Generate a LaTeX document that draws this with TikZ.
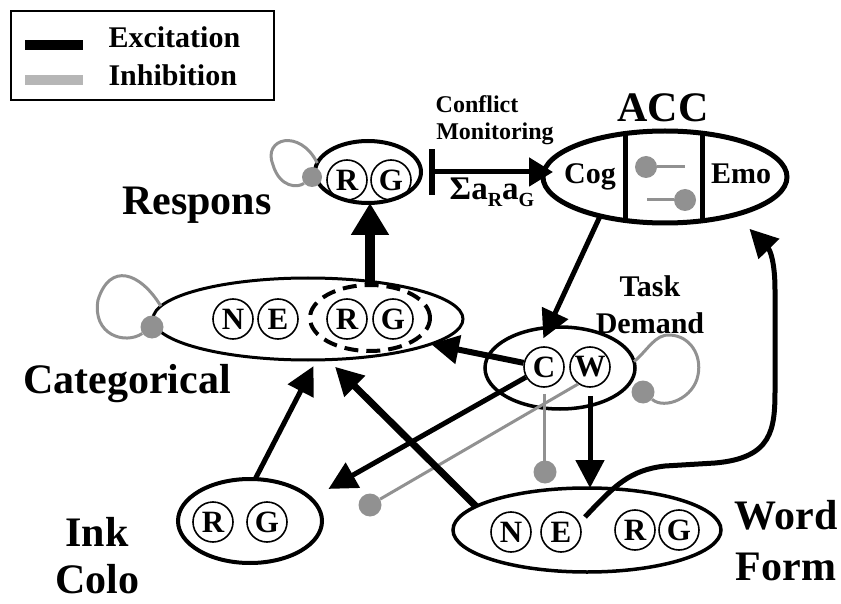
\documentclass[tikz,border=0pt]{standalone}
\usepackage{fontspec}
\setmainfont{Liberation Serif}
\usetikzlibrary{shapes.geometric,arrows.meta}
\definecolor{inhgray}{RGB}{145,145,145}
\definecolor{leggray}{RGB}{182,182,182}
\begin{document}
\begin{tikzpicture}[x=1pt,y=-1pt,
  ell/.style={draw,ellipse,inner sep=0pt,outer sep=0pt},
  unit/.style={draw,circle,line width=1.6pt,minimum size=40pt,inner sep=0pt,font=\fontsize{31}{31}\selectfont\bfseries},
  dotnode/.style={circle,fill=inhgray,minimum size=23pt,inner sep=0pt},
  big/.style={inner sep=0pt,font=\fontsize{42}{42}\selectfont\bfseries},
  mid/.style={font=\fontsize{30}{30}\selectfont\bfseries},
  small/.style={font=\fontsize{24}{24}\selectfont\bfseries},
  exc/.style={line width=5pt,-{Triangle[length=28pt,width=28pt]}},
  inh/.style={draw=inhgray,line width=3pt}]
\useasboundingbox (0,0) rectangle (841,604);

% legend
\draw[line width=2pt] (11,11) rectangle (274,100);
\draw[line width=10pt] (25,45) -- (83,45);
\draw[line width=10pt,leggray] (25,80) -- (83,80);
\node[mid,anchor=base west] (lexc) at (105,48) {Excitation};
\node[mid,anchor=base west] (linh) at (105,86) {Inhibition};

% layers
\node[ell,line width=4pt,minimum width=106pt,minimum height=62pt] (resp) at (368,172) {};
\node[unit] (rR) at (347,180) {R};
\node[unit] (rG) at (391,180) {G};

\node[ell,line width=3pt,minimum width=310pt,minimum height=82pt] (cat) at (308,319) {};
\node[unit] (cN) at (233,319) {N};
\node[unit] (cE) at (278,319) {E};
\node[unit] (cR) at (347,319) {R};
\node[unit] (cG) at (393,319) {G};
\node[ell,line width=4pt,dash pattern=on 14pt off 8pt,minimum width=120pt,minimum height=66pt] (rg) at (370,318) {};

\node[ell,line width=3.5pt,minimum width=150pt,minimum height=82pt] (cw) at (560,368) {};
\node[unit] (cC) at (544,367) {C};
\node[unit] (cW) at (590,367) {W};

\node[ell,line width=4pt,minimum width=144pt,minimum height=84pt] (ink) at (250,521) {};
\node[unit] (iR) at (213,522) {R};
\node[unit] (iG) at (267,522) {G};

\node[ell,line width=3.5pt,minimum width=268pt,minimum height=84pt] (word) at (587,530) {};
\node[unit] (wN) at (511,532) {N};
\node[unit] (wE) at (561,532) {E};
\node[unit] (wR) at (635,530) {R};
\node[unit] (wG) at (679,530) {G};

% ACC
\node[ell,line width=5pt,minimum width=244pt,minimum height=92pt] (acc) at (665,177) {};
\draw[line width=5pt] (625,133) -- (625,221);
\draw[line width=5pt] (702,133) -- (702,221);
\node[mid,anchor=base] (cog) at (590,184) {Cog};
\node[mid,anchor=base] (emo) at (741,184) {Emo};
\node[dotnode,minimum size=22pt] (d6) at (646,167) {};
\node[dotnode,minimum size=22pt] (d7) at (685,200) {};
\draw[inh] (d6) -- (685,167);
\draw[inh] (647,200) -- (d7);

% labels
\node[big,anchor=base] (lresp) at (197,215) {Respons};
\node[big,anchor=base] (lcat) at (127,393) {Categorical};
\node[big,anchor=base] (link) at (97,546) {Ink};
\node[big,anchor=base] (lcolo) at (97,593) {Colo};
\node[big,anchor=base] (lword) at (786,529) {Word};
\node[big,anchor=base] (lform) at (786,580) {Form};
\node[big,anchor=base] (lacc) at (663,122) {ACC};
\node[mid,anchor=base] (ltask) at (650,297) {Task};
\node[mid,anchor=base] (ldem) at (650,333) {Demand};
\node[small,anchor=base] (lconf) at (477,113) {Conflict};
\node[small,anchor=base] (lmon) at (495,140) {Monitoring};
\node[mid,anchor=base] (lsum) at (492,200) {\fontsize{33}{33}\selectfont Σa\raisebox{-7pt}{\fontsize{20}{20}\selectfont R}a\raisebox{-7pt}{\fontsize{20}{20}\selectfont G}};

% inhibition dots
\node[dotnode,minimum size=20pt] (d1) at (312,177) {};
\node[dotnode] (d2) at (152,327) {};
\node[dotnode] (d3) at (545,472) {};
\node[dotnode] (d4) at (370,505) {};
\node[dotnode] (d5) at (643,392) {};

% self loops
\draw[inh] (resp.170) .. controls (300,128) and (262,138) .. (273,165) .. controls (280,188) and (298,188) .. (d1);
\draw[inh] (cat.175) .. controls (140,272) and (110,262) .. (98,300) .. controls (92,335) and (125,345) .. (d2);
\draw[inh] (cw.5) .. controls (648,350) and (655,334) .. (670,335) .. controls (690,336) and (702,355) .. (698,375) .. controls (694,398) and (665,410) .. (d5);

% inhibition from task demand
\draw[inh,shorten <=6pt] (cC.south) -- (cC.south |- d3);
\draw[inh] (cW.235) -- (d4);

% excitation
\draw[line width=10pt,-{Triangle[length=32pt,width=36pt]}] (rg.north) -- (rg.north |- resp.south);
\draw[line width=5pt,{Bar[width=46pt,line width=6pt]}-{Triangle[length=24pt,width=28pt]},shorten <=8pt,shorten >=-10pt] (resp.east) -- (resp.east -| acc.west);
\draw[exc,shorten >=-12pt] (acc.211) -- (cw.106);
\draw[exc,line width=6pt] (cC) -- (cat);
\draw[exc,shorten >=20pt] (cC) -- (ink.20);
\draw[exc,shorten <=8pt] (cW.south) -- (cW.south |- word.north);
\draw[exc,shorten >=7pt] (ink.83) -- (cat.-78);
\draw[exc,line width=7pt,shorten >=10pt] (word.168) -- (cat.-64);
\coordinate (wstart) at (585,517);
\draw[exc,shorten >=20pt] (wstart) .. controls (615,485) and (630,470) .. (665,466) -- (715,463) .. controls (772,458) and (775,430) .. (775,390) -- (775,290) .. controls (775,262) and (770,250) .. (acc.-28);
\end{tikzpicture}
\end{document}
